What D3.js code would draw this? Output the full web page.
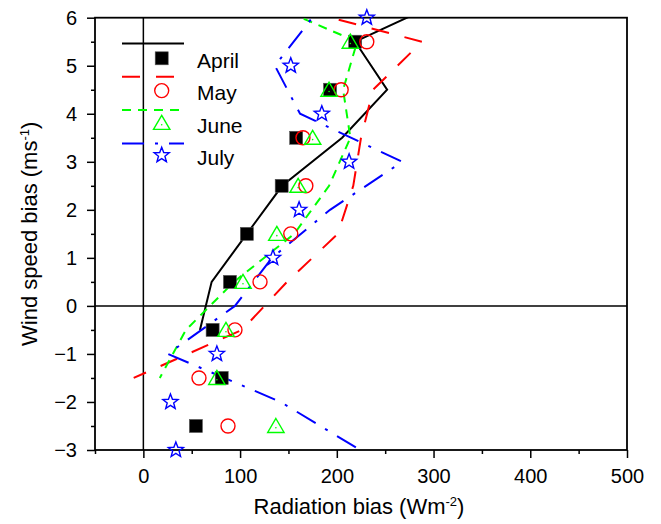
<!DOCTYPE html>
<html>
<head>
<meta charset="utf-8">
<script src="https://cdn.jsdelivr.net/npm/d3@7"></script>
<style>
html,body{margin:0;padding:0;background:#fff;}
svg{display:block;font-family:"Liberation Sans",Arial,Helvetica,sans-serif;}
</style>
</head>
<body>
<svg id="chart" width="661" height="524"></svg>
<script>
// ---------- data ----------
const radTicks = [0, 100, 200, 300, 400, 500];
const windTicks = [-3, -2, -1, 0, 1, 2, 3, 4, 5, 6];
const seriesNames = ["April", "May", "June", "July"];

// marker data (wind speed bias levels, radiation bias)
const markerLevels = [5.5, 4.5, 3.5, 2.5, 1.5, 0.5, -0.5, -1.5, -2.5];
const aprilMarks = [219, 193, 158, 143, 107, 89.5, 71.6, 81, 54.3];
const mayMarks   = [231, 204.5, 165, 168, 152.4, 120.6, 94.7, 57.5, 87.5];
const juneMarks  = [214, 192, 175, 160, 138, 103, 85.4, 76, 137];
const julyMarkLevels = [6, 5, 4, 3, 2, 1, -1, -2, -3];
const julyMarks  = [231, 152.4, 184.5, 212.7, 161, 134, 76, 28, 33.6];

// line data
const aprilLineLevels = [6.5, 5.5, 4.5, 3.5, 2.5, 1.5, 0.5, -0.5];
const aprilLine = [326, 219, 252, 205.5, 143.5, 107, 70.6, 58.5];
const mayJuneLineLevels = [6.5, 5.5, 4.5, 3.5, 2.5, 1.5, 0.5, -0.5, -1.5];
const mayLine  = [100, 288, 237.5, 225, 217, 201, 148.5, 102, -10];
const juneLine = [105, 221, 206.5, 214, 192, 156, 93.7, 44, 17];
const julyLineLevels = [6.5, 5, 4, 3, 2, 1, 0, -1, -2, -3];
const julyLine = [194, 136, 162, 267.6, 193, 133, 94.7, 25.4, 142, 224];

// ---------- layout ----------
const svg = d3.select("#chart");
const L = 95, R = 627, T = 17.7, B = 450;
const x = d3.scaleLinear().domain([-50, 500]).range([L, R]);
const y = d3.scaleLinear().domain([-3, 6]).range([B, T]);

const styles = [
  {color: "#000000", dash: null,          shape: "square"},
  {color: "#ff0000", dash: "18,16",       shape: "circle"},
  {color: "#00ff00", dash: "9,7",         shape: "triangle"},
  {color: "#0000ff", dash: "22,11,3,11",  shape: "star"}
];

svg.append("clipPath").attr("id", "clip")
  .append("rect").attr("x", L).attr("y", T).attr("width", R - L).attr("height", B - T);

// axes
const minorX = d3.range(-50, 501, 50).filter(v => radTicks.indexOf(v) < 0);
const minorY = d3.range(-2.5, 6, 1);

const gx = svg.append("g").attr("transform", `translate(0,${B})`);
gx.call(d3.axisBottom(x).tickValues(radTicks).tickSize(8).tickPadding(11).tickFormat(d3.format("d")));
const gxm = svg.append("g").attr("transform", `translate(0,${B})`);
gxm.call(d3.axisBottom(x).tickValues(minorX).tickSize(4).tickFormat(""));

const gy = svg.append("g").attr("transform", `translate(${L},0)`);
gy.call(d3.axisLeft(y).tickValues(windTicks).tickSize(8).tickPadding(10).tickFormat(d3.format("d")));
const gym = svg.append("g").attr("transform", `translate(${L},0)`);
gym.call(d3.axisLeft(y).tickValues(minorY).tickSize(4).tickFormat(""));

[gx, gxm, gy, gym].forEach(g => {
  g.select(".domain").remove();
  g.selectAll("line").attr("stroke", "#000").attr("stroke-width", 1.5);
  g.selectAll("text").attr("font-size", 20).attr("fill", "#000")
    .attr("font-family", '"Liberation Sans",Arial,sans-serif');
});

// zero lines
svg.append("line").attr("x1", x(0)).attr("x2", x(0)).attr("y1", T).attr("y2", B)
  .attr("stroke", "#000").attr("stroke-width", 1.5);
svg.append("line").attr("x1", L).attr("x2", R).attr("y1", y(0)).attr("y2", y(0))
  .attr("stroke", "#000").attr("stroke-width", 1.5);

// frame
svg.append("rect").attr("x", L).attr("y", T).attr("width", R - L).attr("height", B - T)
  .attr("fill", "none").attr("stroke", "#000").attr("stroke-width", 1.8);

// lines
const lineGen = d3.line().x(d => x(d[1])).y(d => y(d[0]));
const lineSets = [
  [aprilLineLevels, aprilLine],
  [mayJuneLineLevels, mayLine],
  [mayJuneLineLevels, juneLine],
  [julyLineLevels, julyLine]
];
const gl = svg.append("g").attr("clip-path", "url(#clip)");
lineSets.forEach((s, i) => {
  const pts = s[0].map((lv, k) => [lv, s[1][k]]);
  gl.append("path").datum(pts).attr("d", lineGen)
    .attr("fill", "none").attr("stroke", styles[i].color).attr("stroke-width", 2)
    .attr("stroke-dasharray", styles[i].dash);
});

// marker drawing
function starPath(ro, ri) {
  let p = "";
  for (let k = 0; k < 10; k++) {
    const r = k % 2 === 0 ? ro : ri;
    const a = -Math.PI / 2 + k * Math.PI / 5;
    p += (k === 0 ? "M" : "L") + (r * Math.cos(a)).toFixed(2) + "," + (r * Math.sin(a)).toFixed(2);
  }
  return p + "Z";
}
function drawMarker(g, shape, color, cx, cy) {
  const m = g.append("g").attr("transform", `translate(${cx},${cy})`);
  if (shape === "square") {
    m.append("rect").attr("x", -6.5).attr("y", -6.5).attr("width", 13).attr("height", 13)
      .attr("fill", "#000").attr("stroke", "#555").attr("stroke-width", 0.6);
  } else if (shape === "circle") {
    m.append("circle").attr("r", 7).attr("fill", "none").attr("stroke", color).attr("stroke-width", 1.4);
  } else if (shape === "triangle") {
    m.append("path").attr("d", "M0,-7.5L8.2,6.5L-8.2,6.5Z").attr("fill", "none")
      .attr("stroke", color).attr("stroke-width", 1.4);
    m.append("circle").attr("cy", 1.8).attr("r", 0.8).attr("fill", color);
  } else {
    m.append("path").attr("d", starPath(8, 3.4)).attr("fill", "none")
      .attr("stroke", color).attr("stroke-width", 1.4).attr("stroke-linejoin", "miter");
  }
}

const markSets = [
  [markerLevels, aprilMarks],
  [markerLevels, mayMarks],
  [markerLevels, juneMarks],
  [julyMarkLevels, julyMarks]
];
const gm = svg.append("g");
markSets.forEach((s, i) => {
  s[0].forEach((lv, k) => drawMarker(gm, styles[i].shape, styles[i].color, x(s[1][k]), y(lv)));
});

// legend
const lg = svg.append("g");
seriesNames.forEach((name, i) => {
  const ly = 43.5 + i * 33.3;
  const my = 58.3 + i * 32.3;
  const ty = 67.8 + i * 32.4;
  lg.append("line").attr("x1", 122).attr("x2", 184).attr("y1", ly).attr("y2", ly)
    .attr("stroke", styles[i].color).attr("stroke-width", 2)
    .attr("stroke-dasharray", styles[i].dash);
  drawMarker(lg, styles[i].shape, styles[i].color, 161.7, my);
  lg.append("text").attr("x", 197).attr("y", ty).attr("font-size", 21).attr("fill", "#000").text(name);
});

// axis titles
const xt = svg.append("text").attr("x", 359).attr("y", 514).attr("text-anchor", "middle")
  .attr("font-size", 22).attr("fill", "#000");
xt.append("tspan").text("Radiation bias (Wm");
xt.append("tspan").attr("font-size", 13).attr("dy", -8).text("-2");
xt.append("tspan").attr("dy", 8).text(")");

const yt = svg.append("text").attr("transform", `translate(37,${(T + B) / 2}) rotate(-90)`)
  .attr("text-anchor", "middle").attr("font-size", 22).attr("fill", "#000");
yt.append("tspan").text("Wind speed bias (ms");
yt.append("tspan").attr("font-size", 13).attr("dy", -8).text("-1");
yt.append("tspan").attr("dy", 8).text(")");
</script>
</body>
</html>
